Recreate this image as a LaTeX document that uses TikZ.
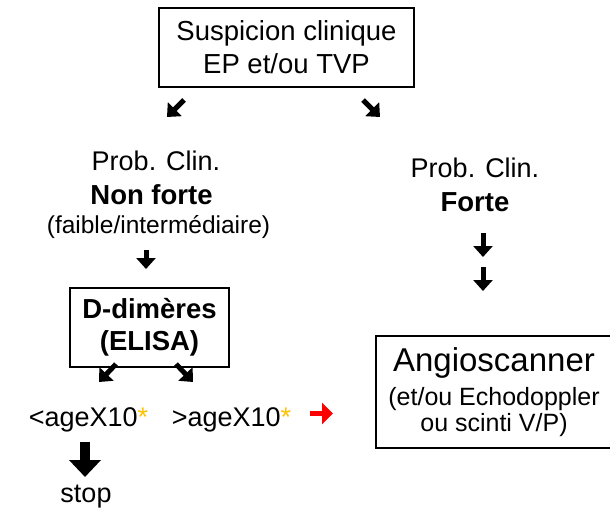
\documentclass[tikz,border=0pt]{standalone}
\usepackage{fontspec}
\setmainfont{Liberation Sans}
\usetikzlibrary{arrows.meta, positioning}
\definecolor{my_red}{RGB}{255, 0, 0}
\definecolor{my_gold}{RGB}{255, 192, 0}
\newcommand{\fsz}[2]{\fontsize{#1}{#2}\selectfont}
\tikzset {
  box/.style = {draw, line width=1.2pt, rectangle, inner sep=0pt, align=center},
  txt/.style = {inner sep=0pt, anchor=base, font=\fsz{27}{27}},
  small/.style = {inner sep=0pt, anchor=base, font=\fsz{24.5}{24.5}},
  bold/.style = {inner sep=0pt, anchor=base, font=\bfseries\fsz{27.5}{27.5}},
  fat/.style = {line width=5pt, -{Triangle[length=11pt, width=19pt]}},
  fatbig/.style = {line width=10pt, -{Triangle[length=17pt, width=31pt]}},
  fatred/.style = {line width=5.5pt, color=my_red, -{Triangle[length=11pt, width=21pt]}}
}

\begin{document}
\begin{tikzpicture}[x=1pt, y=-1pt]
    \useasboundingbox (0,0) rectangle (610,508);

    \node[box, minimum width=255pt, minimum height=79pt, font=\fsz{27.5}{33}] (susp) at (286.5,47.5) {Suspicion clinique\\EP et/ou TVP};

    % left branch
    \node[txt] (pcl) at (156,170) {Prob. Clin.};
    \node[bold] (nonforte) at (151.5,204) {Non forte};
    \node[small] (faible) at (158.5,233) {(faible/intermédiaire)};
    \node[box, minimum width=159pt, minimum height=79pt, font=\bfseries\fsz{27.5}{32}] (ddim) at (149.5,327.5) {D-dimères\\(ELISA)};
    \node[txt] (inf) at (88.5,426) {<ageX10\textcolor{my_gold}{*}};
    \node[txt] (sup) at (231.5,426) {>ageX10\textcolor{my_gold}{*}};
    \node[txt] (stop) at (86,502) {stop};

    % right branch
    \node[txt] (pcr) at (475,177) {Prob. Clin.};
    \node[bold] (forte) at (475,211) {Forte};
    \node[box, minimum width=236pt, minimum height=112pt, font=\fsz{25}{26}] (angio) at (494,392) {{\fsz{33}{33}Angioscanner}\\[8pt](et/ou Echodoppler\\ou scinti V/P)};

    \coordinate (a1) at (184,100);
    \coordinate (a2) at (363,100);
    \coordinate (a3) at (146,250);
    \coordinate (a4) at (483,233);
    \coordinate (a5) at (483,267);
    \coordinate (a6) at (116,364);
    \coordinate (a7) at (176,364);
    \coordinate (a8) at (310,413.5);
    \coordinate (a9) at (85,442);

    \draw[fat] (a1) -- ++(-17,17);
    \draw[fat] (a2) -- ++(17,17);
    \draw[fat] (a3) -- ++(0,19);
    \draw[fat] (a4) -- ++(0,24);
    \draw[fat] (a5) -- ++(0,24);
    \draw[fat] (a6) -- ++(-17,18);
    \draw[fat] (a7) -- ++(17,18);
    \draw[fatred] (a8) -- ++(23,0);
    \draw[fatbig] (a9) -- ++(0,35);

\end{tikzpicture}
\end{document}
